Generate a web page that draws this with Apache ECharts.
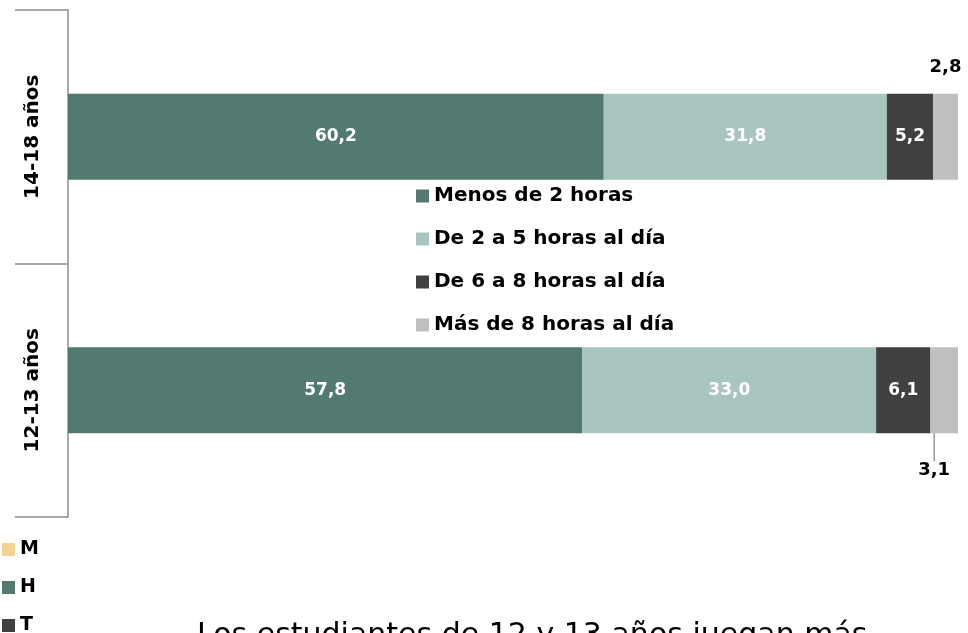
<!DOCTYPE html>
<html>
<head>
<meta charset="utf-8">
<script src="https://cdn.jsdelivr.net/npm/echarts@6/dist/echarts.min.js"></script>
<style>
  html, body { margin: 0; padding: 0; background: #fff; }
  #chart { width: 968px; height: 633px; }
</style>
</head>
<body>
<div id="chart"></div>
<script>
// bottom category first (ECharts draws y categories upward)
var categories = ["12-13 años", "14-18 años"];
var seriesNames = ["Menos de 2 horas", "De 2 a 5 horas al día", "De 6 a 8 horas al día", "Más de 8 horas al día"];
var menos2 = [57.8, 60.2];
var de2a5 = [33.0, 31.8];
var de6a8 = [6.1, 5.2];
var mas8 = [3.1, 2.8];
var extraNames = ["M", "H", "T"];

var colors = ["#527A70", "#A9C5C0", "#404040", "#BFBFBF"];
var extraColors = ["#F2D493", "#527A70", "#404040"];
var FONT = "DejaVu Sans";

function fmt(p) {
  return p.value.toFixed(1).replace(".", ",");
}

var values = [menos2, de2a5, de6a8, mas8];
var series = values.map(function (v, i) {
  var s = {
    name: seriesNames[i],
    type: "bar",
    stack: "total",
    barWidth: 86,
    itemStyle: { color: colors[i] },
    label: {
      show: true,
      position: "inside",
      color: "#fff",
      fontFamily: FONT,
      fontWeight: "bold",
      fontSize: 17,
      formatter: fmt,
    },
    data: v,
  };
  if (i === 3) {
    // small slice: labels outside, the lower one with a leader line
    s.label.color = "#000";
    s.label.fontSize = 18;
    s.data = v.map(function (val, k) {
      if (k === 0) {
        return {
          value: val,
          label: { position: "bottom", distance: 28 },
          labelLine: { show: true, lineStyle: { color: "#808080", width: 1.2 } },
        };
      }
      return { value: val, label: { position: "top", distance: 17 } };
    });
    s.labelLayout = function (params) {
      if (params.dataIndex === 0) {
        return { dx: -10 };
      }
      return {};
    };
  }
  return s;
});

extraNames.forEach(function (n, i) {
  series.push({
    name: n,
    type: "bar",
    stack: "total",
    itemStyle: { color: extraColors[i] },
    data: [],
  });
});

var option = {
  animation: false,
  grid: { left: 68, right: 10, top: 10, bottom: 116 },
  title: {
    text: "Los estudiantes de 12 y 13 años juegan más",
    left: 197,
    top: 621,
    padding: 0,
    textStyle: { fontFamily: FONT, fontWeight: "normal", fontSize: 30, color: "#000" },
  },
  legend: [
    {
      data: seriesNames,
      orient: "vertical",
      left: 416,
      top: 186,
      padding: 0,
      itemWidth: 13,
      itemHeight: 13,
      itemGap: 23,
      icon: "rect",
      textStyle: { fontFamily: FONT, fontWeight: "bold", fontSize: 20, color: "#000" },
    },
    {
      data: extraNames,
      orient: "vertical",
      left: 2,
      top: 540,
      padding: 0,
      height: 200,
      itemWidth: 13,
      itemHeight: 13,
      itemGap: 19,
      icon: "rect",
      textStyle: { fontFamily: FONT, fontWeight: "bold", fontSize: 19, color: "#000" },
    },
  ],
  xAxis: {
    type: "value",
    min: 0,
    max: 100,
    show: false,
  },
  yAxis: {
    type: "category",
    data: categories,
    axisLine: { lineStyle: { color: "#8C8C8C", width: 1.5 } },
    axisTick: { show: true, length: 53, lineStyle: { color: "#8C8C8C", width: 1.5 } },
    axisLabel: {
      rotate: 90,
      margin: 25,
      color: "#000",
      fontFamily: FONT,
      fontWeight: "bold",
      fontSize: 20,
    },
  },
  series: series,
};

var chart = echarts.init(document.getElementById("chart"));
chart.setOption(option);
</script>
</body>
</html>
